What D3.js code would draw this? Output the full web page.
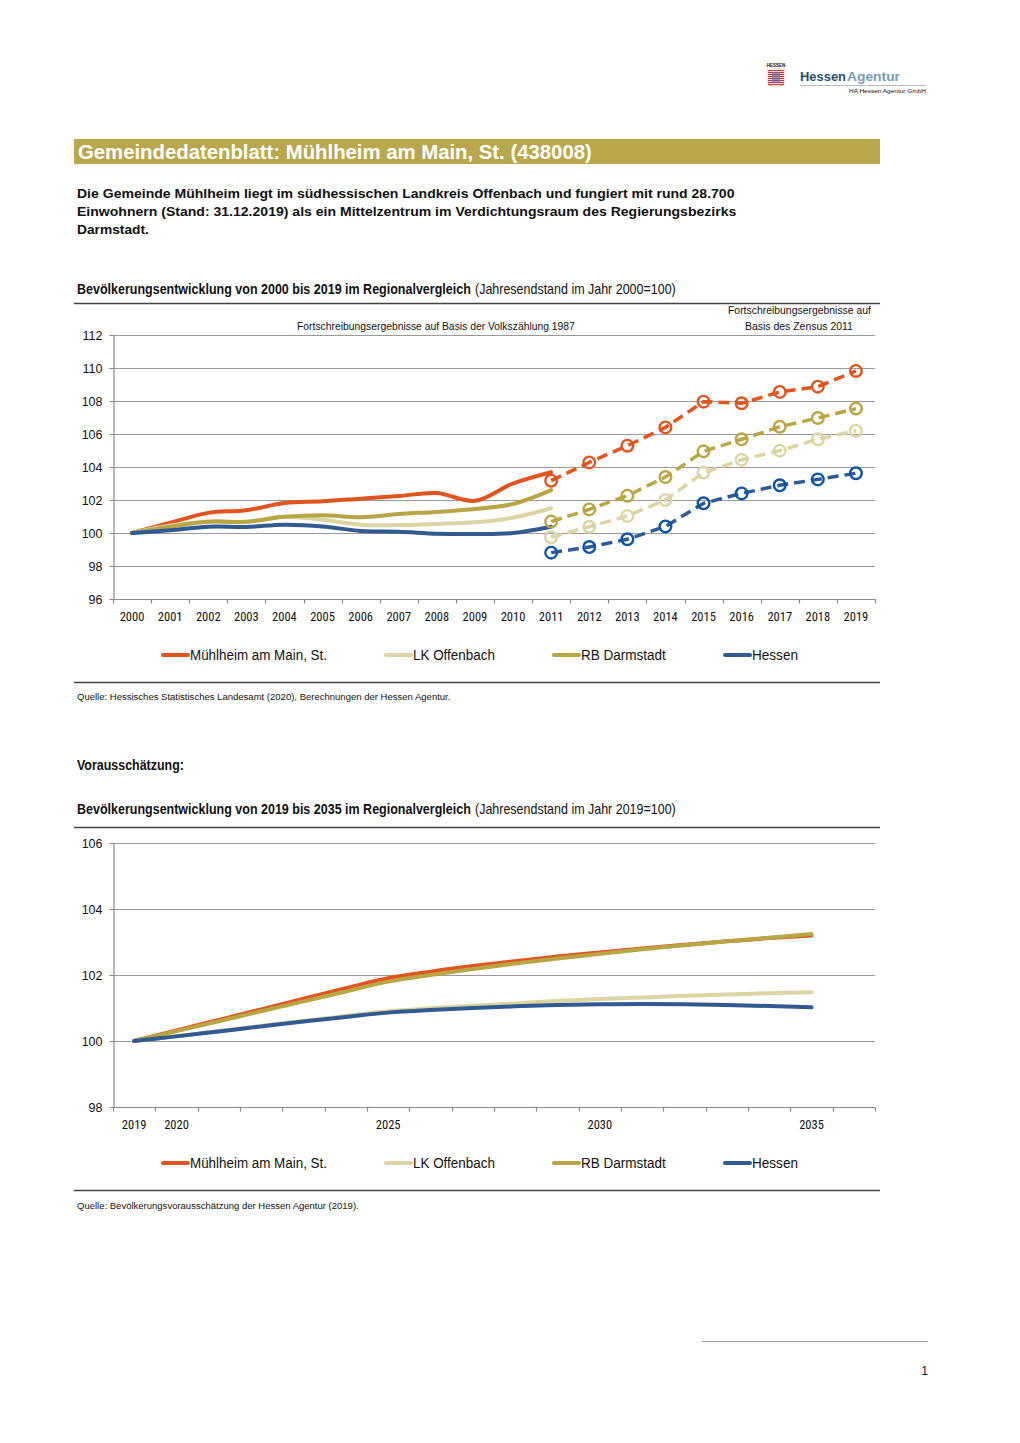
<!DOCTYPE html>
<html><head><meta charset="utf-8">
<script src="https://cdn.jsdelivr.net/npm/d3@7"></script>
<style>
body{margin:0;background:#fff}
svg{display:block}
text{font-family:'Liberation Sans Narrow','Arial Narrow','Roboto Condensed',sans-serif;fill:#111}
.wide{font-family:'Liberation Sans',Arial,sans-serif}
</style>
</head><body>
<svg id="page" width="1020" height="1443"></svg>
<script>
// ---------- data ----------
const seriesNames = ["Mühlheim am Main, St.", "LK Offenbach", "RB Darmstadt", "Hessen"];
const seriesColors = ["#e0541f", "#dcd4a3", "#b8a645", "#2f5b92"];
const markerColors = ["#e0541f", "#dcd4a3", "#b8a645", "#0b53a5"];

const years1 = ["2000","2001","2002","2003","2004","2005","2006","2007","2008","2009","2010","2011","2012","2013","2014","2015","2016","2017","2018","2019"];
const yearsVZ = ["2000","2001","2002","2003","2004","2005","2006","2007","2008","2009","2010","2011"];
const yearsZensus = ["2011","2012","2013","2014","2015","2016","2017","2018","2019"];

const muehlheimVZ   = [100,100.62,101.22,101.38,101.82,101.92,102.08,102.24,102.42,101.95,103.0,103.68];
const lkOffenbachVZ = [100,100.45,100.70,100.68,100.98,100.80,100.50,100.48,100.55,100.65,100.93,101.50];
const rbDarmstadtVZ = [100,100.38,100.68,100.68,100.98,101.08,100.96,101.15,101.28,101.45,101.76,102.60];
const hessenVZ      = [100,100.16,100.38,100.37,100.50,100.40,100.12,100.08,99.96,99.94,100.00,100.38];

const muehlheimZ   = [103.17,104.28,105.29,106.40,107.96,107.86,108.55,108.87,109.82];
const lkOffenbachZ = [99.74,100.38,101.03,102.00,103.66,104.44,104.99,105.68,106.20];
const rbDarmstadtZ = [100.69,101.43,102.26,103.39,104.95,105.68,106.44,106.97,107.54];
const hessenZ      = [98.81,99.15,99.62,100.40,101.80,102.40,102.89,103.25,103.62];

const yTicks1 = [96,98,100,102,104,106,108,110,112];

const years2 = ["2019","2020","2021","2022","2023","2024","2025","2026","2027","2028","2029","2030","2031","2032","2033","2034","2035","2036"];
const years2Data = ["2019","2020","2021","2022","2023","2024","2025","2026","2027","2028","2029","2030","2031","2032","2033","2034","2035"];
const years2Labels = ["2019","2020","2025","2030","2035"];
const muehlheimP   = [100,100.32,100.64,100.96,101.28,101.60,101.90,102.10,102.27,102.42,102.56,102.68,102.80,102.92,103.02,103.12,103.20];
const lkOffenbachP = [100,100.15,100.30,100.46,100.61,100.76,100.90,100.99,101.07,101.14,101.21,101.27,101.32,101.37,101.41,101.45,101.48];
const rbDarmstadtP = [100,100.30,100.60,100.90,101.20,101.50,101.80,102.00,102.18,102.35,102.50,102.64,102.78,102.90,103.02,103.13,103.24];
const hessenP      = [100,100.14,100.29,100.44,100.59,100.73,100.86,100.94,101.00,101.05,101.09,101.11,101.12,101.11,101.09,101.06,101.02];
const yTicks2 = [98,100,102,104,106];

// ---------- helpers ----------
const svg = d3.select("#page");
svg.append("rect").attr("width",1020).attr("height",1443).attr("fill","#fff");
// squeeze a text horizontally to a target width (emulates the narrow face of the original)
function fit(sel, w){
  sel.each(function(){
    const n = this.getComputedTextLength();
    const x = +this.getAttribute("x");
    if(n>0) this.setAttribute("transform",`translate(${x},0) scale(${w/n},1) translate(${-x},0)`);
  });
  return sel;
}

// logo
const logo = svg.append("g");
logo.append("text").attr("class","wide").attr("x",776).attr("y",67).attr("text-anchor","middle")
  .style("font-size","4.5px").style("font-weight","bold").attr("fill","#555").text("HESSEN");
const crestStripes = d3.range(8);
logo.append("path").attr("d","M767,69 H785 V80 Q785,86 776,87 Q767,86 767,80 Z").attr("fill","#fff").attr("stroke","#bbb").attr("stroke-width",0.5);
logo.selectAll("rect.cs").data(crestStripes).enter().append("rect")
  .attr("x",768).attr("y",d=>70+d*2).attr("width",16).attr("height",1.2)
  .attr("fill","#d2343a");
logo.append("rect").attr("x",772).attr("y",72).attr("width",8).attr("height",11).attr("fill","#5a6ea0").attr("opacity",0.6);
fit(logo.append("text").attr("class","wide").attr("x",800).attr("y",81).style("font-size","12px").style("font-weight","bold")
  .style("fill","#2d4d72").text("Hessen"),46);
fit(logo.append("text").attr("class","wide").attr("x",847).attr("y",81).style("font-size","12px").style("font-weight","bold")
  .style("fill","#7b9bbb").text("Agentur"),53);
logo.append("line").attr("x1",800).attr("x2",926).attr("y1",85.5).attr("y2",85.5).attr("stroke","#aaa").attr("stroke-width",0.8);
fit(logo.append("text").attr("class","wide").attr("x",849).attr("y",93).style("font-size","5.5px").attr("fill","#333").text("HA Hessen Agentur GmbH"),77);

// title bar
svg.append("rect").attr("x",74).attr("y",139).attr("width",806).attr("height",25).attr("fill","#b8a74c");
fit(svg.append("text").attr("class","wide").attr("x",78).attr("y",159).style("font-size","20px").style("font-weight","bold")
  .style("fill","#fff").text("Gemeindedatenblatt: Mühlheim am Main, St. (438008)"),514);

const intro = ["Die Gemeinde Mühlheim liegt im südhessischen Landkreis Offenbach und fungiert mit rund 28.700",
  "Einwohnern (Stand: 31.12.2019) als ein Mittelzentrum im Verdichtungsraum des Regierungsbezirks",
  "Darmstadt."];
const introW = [658,660,72];
intro.forEach((d,i)=>{
  fit(svg.append("text").attr("class","wide").attr("x",77).attr("y",198+i*18)
    .style("font-size","13.5px").style("font-weight","bold").text(d), introW[i]);
});

function heading(y, bold, normal){
  fit(svg.append("text").attr("class","wide").attr("x",77).attr("y",y).style("font-size","14px").style("font-weight","bold").text(bold),394);
  fit(svg.append("text").attr("class","wide").attr("x",475).attr("y",y).style("font-size","14px").text(normal),201);
}
function rule(y, w){
  svg.append("line").attr("x1",74).attr("x2",880).attr("y1",y).attr("y2",y).attr("stroke","#444").attr("stroke-width",w||1.5);
}

heading(294,"Bevölkerungsentwicklung von 2000 bis 2019 im Regionalvergleich","(Jahresendstand im Jahr 2000=100)");
rule(303.5,1.5);

function legend(y){
  const xs = [161,384,552,723];
  const ws = [137,82,85,46];
  const g = svg.append("g");
  seriesNames.forEach((n,i)=>{
    g.append("line").attr("x1",xs[i]+2).attr("x2",xs[i]+27).attr("y1",y).attr("y2",y)
      .attr("stroke",seriesColors[i]).attr("stroke-width",4).attr("stroke-linecap","round");
    fit(g.append("text").attr("class","wide").attr("x",xs[i]+29).attr("y",y+5.5).style("font-size","15px").text(n),ws[i]);
  });
}

function frame(x, y, yTicksArr){
  svg.append("g").selectAll("line").data(yTicksArr.slice(1)).enter().append("line")
    .attr("x1",113).attr("x2",875).attr("y1",d=>Math.round(y(d))+0.5).attr("y2",d=>Math.round(y(d))+0.5)
    .attr("stroke","#999").attr("stroke-width",1.2);
  const ya = svg.append("g").attr("transform","translate(113.5,0)")
    .call(d3.axisLeft(y).tickValues(yTicksArr).tickSize(4).tickSizeOuter(0).tickPadding(7));
  ya.select(".domain").attr("stroke","#888").attr("stroke-width",1.2);
  ya.selectAll(".tick line").attr("stroke","#888");
  ya.selectAll("text").style("font-size","12.5px").attr("fill","#111").style("font-family","'Liberation Sans Narrow','Arial Narrow',sans-serif");
  const y0 = Math.round(y(yTicksArr[0]))+0.5;
  svg.append("line").attr("x1",113).attr("x2",875.5).attr("y1",y0).attr("y2",y0).attr("stroke","#888").attr("stroke-width",1.2);
  const bounds = x.domain().map(d=>x(d)).concat([x.range()[1]]);
  svg.append("g").selectAll("line").data(bounds).enter().append("line")
    .attr("x1",d=>Math.round(d)+0.5).attr("x2",d=>Math.round(d)+0.5).attr("y1",y0).attr("y2",y0+4)
    .attr("stroke","#888").attr("stroke-width",1.2);
  return y0;
}

// ---------- chart 1 ----------
const x1 = d3.scaleBand().domain(years1).range([113,875]);
const y1 = d3.scaleLinear().domain([96,112]).range([599,335]);
fit(svg.append("text").attr("class","wide").attr("x",297).attr("y",330).style("font-size","11.5px")
  .text("Fortschreibungsergebnisse auf Basis der Volkszählung 1987"),278);
fit(svg.append("text").attr("class","wide").attr("x",728).attr("y",314).style("font-size","11.5px").text("Fortschreibungsergebnisse auf"),143);
fit(svg.append("text").attr("class","wide").attr("x",745).attr("y",330).style("font-size","11.5px").text("Basis des Zensus 2011"),108);
const base1 = frame(x1,y1,yTicks1);
svg.append("g").selectAll("text").data(years1).enter().append("text")
  .attr("x",d=>x1(d)+x1.bandwidth()/2).attr("y",base1+21).attr("text-anchor","middle").style("font-size","12.5px").text(d=>d);

const cx1 = d=>x1(d)+x1.bandwidth()/2;
const solid1 = [muehlheimVZ, lkOffenbachVZ, rbDarmstadtVZ, hessenVZ];
const dashed1 = [muehlheimZ, lkOffenbachZ, rbDarmstadtZ, hessenZ];
const lineSolid = d3.line().x(d=>cx1(d[0])).y(d=>y1(d[1])).curve(d3.curveCatmullRom.alpha(0.5));
const lineDash = d3.line().x(d=>cx1(d[0])).y(d=>y1(d[1]));
const g1 = svg.append("g");
solid1.forEach((vals,i)=>{
  g1.append("path").datum(yearsVZ.map((yr,j)=>[yr,vals[j]])).attr("d",lineSolid)
    .attr("fill","none").attr("stroke",seriesColors[i]).attr("stroke-width",4).attr("stroke-linecap","round");
});
dashed1.forEach((vals,i)=>{
  const pts = yearsZensus.map((yr,j)=>[yr,vals[j]]);
  g1.append("path").datum(pts).attr("d",lineDash)
    .attr("fill","none").attr("stroke",seriesColors[i]).attr("stroke-width",3.5).attr("stroke-dasharray","11,6");
  g1.selectAll(null).data(pts).enter().append("circle")
    .attr("cx",d=>cx1(d[0])).attr("cy",d=>y1(d[1])).attr("r",5.8)
    .attr("fill","none").attr("stroke",markerColors[i]).attr("stroke-width",2.4);
});
legend(655);
rule(682.5,1.5);
fit(svg.append("text").attr("class","wide").attr("x",77).attr("y",700).style("font-size","9.5px").text("Quelle: Hessisches Statistisches Landesamt (2020), Berechnungen der Hessen Agentur."),374);

// ---------- chart 2 ----------
fit(svg.append("text").attr("class","wide").attr("x",77).attr("y",770).style("font-size","14px").style("font-weight","bold").text("Vorausschätzung:"),107);
heading(814,"Bevölkerungsentwicklung von 2019 bis 2035 im Regionalvergleich","(Jahresendstand im Jahr 2019=100)");
rule(827.5,1.5);
const x2 = d3.scaleBand().domain(years2).range([113,875]);
const y2 = d3.scaleLinear().domain([98,106]).range([1107,843]);
const base2 = frame(x2,y2,yTicks2);
const cx2 = d=>x2(d)+x2.bandwidth()/2;
svg.append("g").selectAll("text").data(years2Labels).enter().append("text")
  .attr("x",d=>cx2(d)).attr("y",base2+21).attr("text-anchor","middle").style("font-size","12.5px").text(d=>d);
const proj = [muehlheimP, lkOffenbachP, rbDarmstadtP, hessenP];
const line2 = d3.line().x(d=>cx2(d[0])).y(d=>y2(d[1])).curve(d3.curveCatmullRom.alpha(0.5));
proj.forEach((vals,i)=>{
  svg.append("path").datum(years2Data.map((yr,j)=>[yr,vals[j]])).attr("d",line2)
    .attr("fill","none").attr("stroke",seriesColors[i]).attr("stroke-width",4).attr("stroke-linecap","round");
});
legend(1163);
rule(1190.5,1.5);
fit(svg.append("text").attr("class","wide").attr("x",77).attr("y",1209).style("font-size","9.5px").text("Quelle: Bevölkerungsvorausschätzung der Hessen Agentur (2019)."),282);

// footer
svg.append("line").attr("x1",702).attr("x2",928).attr("y1",1341.5).attr("y2",1341.5).attr("stroke","#888").attr("stroke-width",0.8);
svg.append("text").attr("class","wide").attr("x",928).attr("y",1375).attr("text-anchor","end").style("font-size","12px").text("1");
</script>
</body></html>
